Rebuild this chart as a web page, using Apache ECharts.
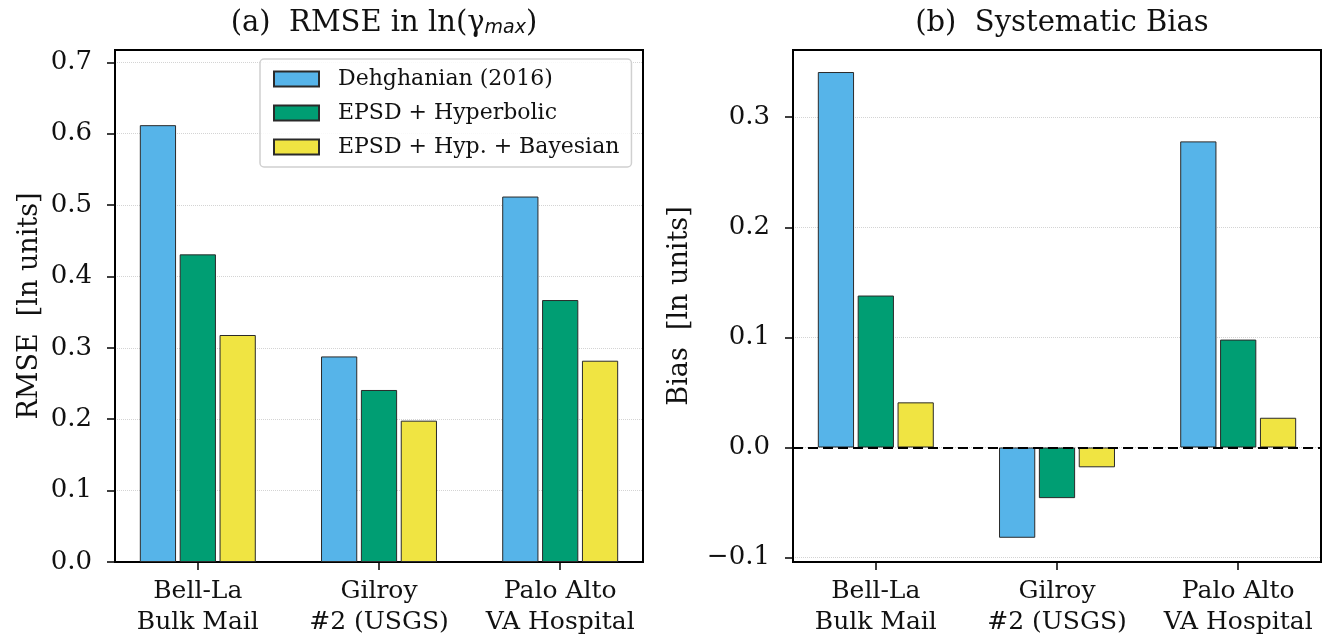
<!DOCTYPE html>
<html>
<head>
<meta charset="utf-8">
<script src="https://cdn.jsdelivr.net/npm/echarts@6/dist/echarts.min.js"></script>
<style>
html, body { margin: 0; padding: 0; background: #fff; }
#main { width: 1335px; height: 638px; }
</style>
</head>
<body>
<div id="main"></div>
<script>
// stations on the x axis, one group of 3 bars each
var stations = ['Bell-La\nBulk Mail', 'Gilroy\n#2 (USGS)', 'Palo Alto\nVA Hospital'];
var stationPos = [0, 1, 2];
var methods = ['Dehghanian (2016)', 'EPSD + Hyperbolic', 'EPSD + Hyp. + Bayesian'];

// (a) RMSE in ln(gamma_max)
var rmseDehghanian = [0.612, 0.288, 0.512];
var rmseHyperbolic = [0.431, 0.241, 0.367];
var rmseBayesian   = [0.318, 0.198, 0.282];

// (b) systematic bias
var biasDehghanian = [0.341, -0.082, 0.278];
var biasHyperbolic = [0.138, -0.046, 0.098];
var biasBayesian   = [0.041, -0.018, 0.027];

var rmseTicks = [0, 0.1, 0.2, 0.3, 0.4, 0.5, 0.6, 0.7];
var biasTicks = [-0.1, 0, 0.1, 0.2, 0.3];

var colors = ['#56B4E9', '#009E73', '#F0E442'];
var serif = 'DejaVu Serif';

function pairs(vals) {
    return vals.map(function (v, i) { return [stationPos[i], v]; });
}

function fmtY(v) {
    return v.toFixed(1).replace('-', '\u2212');
}

function xAxisOpt(gridIndex) {
    return {
        type: 'value',
        gridIndex: gridIndex,
        min: -0.457,
        max: 2.457,
        axisLine: { show: true, onZero: false, lineStyle: { color: '#000', width: 2 } },
        axisTick: { show: true, customValues: stationPos, length: 8, lineStyle: { color: '#000', width: 1.5 } },
        axisLabel: {
            customValues: stationPos,
            formatter: function (v) { return stations[Math.round(v)]; },
            fontFamily: serif, fontSize: 25, color: '#111', lineHeight: 31, margin: 14
        },
        splitLine: { show: false }
    };
}

function yAxisOpt(gridIndex, min, max, ticks, name, gap) {
    return {
        type: 'value',
        gridIndex: gridIndex,
        min: min,
        max: max,
        name: name,
        nameLocation: 'middle',
        nameGap: gap,
        nameTextStyle: { fontFamily: serif, fontSize: 27, color: '#111' },
        axisLine: { show: true, onZero: false, lineStyle: { color: '#000', width: 2 } },
        axisTick: { show: true, customValues: ticks, length: 8, lineStyle: { color: '#000', width: 1.5 } },
        axisLabel: { customValues: ticks, formatter: fmtY, fontFamily: serif, fontSize: 26, color: '#111', margin: 23 },
        splitLine: { show: true, lineStyle: { color: '#d4d4d4', type: 'dotted', width: 1 } }
    };
}

function barSeries(name, vals, idx, axisIdx) {
    return {
        name: name,
        type: 'bar',
        xAxisIndex: axisIdx,
        yAxisIndex: axisIdx,
        data: pairs(vals),
        barWidth: '20%',
        barGap: '10%',
        itemStyle: { color: colors[idx], borderColor: '#2a2a2a', borderWidth: 1 }
    };
}

var myChart = echarts.init(document.getElementById('main'));

var option = {
    backgroundColor: '#fff',
    animation: false,
    title: [{
        text: '(a)  RMSE in ln(\u03b3{sub|max})',
        left: 379, top: 4, textAlign: 'center',
        textStyle: {
            fontFamily: serif, fontSize: 29, fontWeight: 'normal', color: '#111',
            rich: {
                sub: { fontFamily: 'DejaVu Sans', fontStyle: 'italic', fontSize: 19, lineHeight: 19, verticalAlign: 'bottom', padding: [14, 0, 0, 0], color: '#111' }
            }
        }
    }, {
        text: '(b)  Systematic Bias',
        left: 1057, top: 4, textAlign: 'center',
        textStyle: { fontFamily: serif, fontSize: 29, fontWeight: 'normal', color: '#111' }
    }],
    legend: {
        data: methods,
        orient: 'vertical',
        left: 260, top: 59,
        icon: 'rect',
        itemWidth: 45, itemHeight: 15, itemGap: 12,
        padding: [9, 12, 9, 13],
        borderColor: '#d0d0d0', borderWidth: 1.5, borderRadius: 4,
        backgroundColor: 'rgba(255,255,255,0.85)',
        textStyle: { fontFamily: serif, fontSize: 22, color: '#111', lineHeight: 22, padding: [0, 0, 0, 14] }
    },
    grid: [
        { left: 115, right: 692, top: 50, bottom: 76, show: true, borderColor: '#000', borderWidth: 2 },
        { left: 793, right: 14, top: 50, bottom: 76, show: true, borderColor: '#000', borderWidth: 2 }
    ],
    xAxis: [xAxisOpt(0), xAxisOpt(1)],
    yAxis: [
        yAxisOpt(0, 0, 0.7173, rmseTicks, 'RMSE  [ln units]', 72),
        yAxisOpt(1, -0.104, 0.361, biasTicks, 'Bias  [ln units]', 100)
    ],
    series: [
        barSeries(methods[0], rmseDehghanian, 0, 0),
        barSeries(methods[1], rmseHyperbolic, 1, 0),
        barSeries(methods[2], rmseBayesian, 2, 0),
        barSeries(methods[0], biasDehghanian, 0, 1),
        barSeries(methods[1], biasHyperbolic, 1, 1),
        barSeries(methods[2], biasBayesian, 2, 1)
    ]
};

// dashed zero line in the bias panel
option.series[5].markLine = {
    silent: true,
    symbol: 'none',
    label: { show: false },
    lineStyle: { color: '#000', type: [10, 5], width: 2 },
    data: [{ yAxis: 0 }]
};

myChart.setOption(option);
</script>
</body>
</html>
